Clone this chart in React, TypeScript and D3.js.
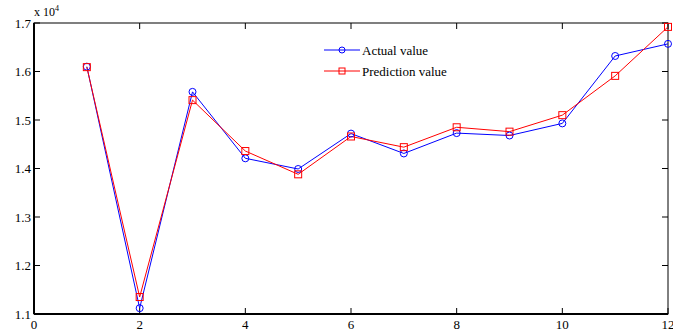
import * as d3 from "d3";

const X_VALUES = [1, 2, 3, 4, 5, 6, 7, 8, 9, 10, 11, 12];
const ACTUAL = [1.61, 1.112, 1.558, 1.421, 1.399, 1.472, 1.431, 1.473, 1.468, 1.493, 1.632, 1.657];
const PREDICTED = [1.609, 1.135, 1.541, 1.436, 1.388, 1.466, 1.444, 1.485, 1.476, 1.51, 1.591, 1.692];
const X_TICKS = [0, 2, 4, 6, 8, 10, 12];
const Y_TICKS = [1.1, 1.2, 1.3, 1.4, 1.5, 1.6, 1.7];

const W = 673;
const H = 336;
const M = { left: 34, top: 23, right: 5, bottom: 22 };
const FONT = "'Liberation Serif', 'DejaVu Serif', serif";
const BLUE = "#0000ff";
const RED = "#ff0000";

export default function App() {
  const x = d3.scaleLinear().domain([0, 12]).range([M.left, W - M.right]);
  const y = d3.scaleLinear().domain([1.1, 1.7]).range([H - M.bottom, M.top]);
  const line = d3
    .line<number>()
    .x((_, i) => x(X_VALUES[i]))
    .y((d) => y(d));
  const x0 = x(0), x1 = x(12), y0 = y(1.1), y1 = y(1.7);
  const tk = 6;

  return (
    <svg
      width={W}
      height={H}
      style={{ position: "absolute", left: 0, top: 0, background: "#fff" }}
      fontFamily={FONT}
    >
      {/* ticks, inward on all four sides */}
      {X_TICKS.map((t) => (
        <g key={`x${t}`} stroke="#000" strokeWidth={1}>
          <line x1={x(t)} x2={x(t)} y1={y0} y2={y0 - tk} />
          <line x1={x(t)} x2={x(t)} y1={y1} y2={y1 + tk} />
        </g>
      ))}
      {Y_TICKS.map((t) => (
        <g key={`y${t}`} stroke="#000" strokeWidth={1}>
          <line x1={x0} x2={x0 + tk} y1={y(t)} y2={y(t)} />
          <line x1={x1} x2={x1 - tk} y1={y(t)} y2={y(t)} />
        </g>
      ))}
      {/* box */}
      <rect x={x0} y={y1} width={x1 - x0} height={y0 - y1} fill="none" stroke="#000" strokeWidth={1} />
      <line x1={x0} x2={x0} y1={y1} y2={y0} stroke="#000" strokeWidth={2} />
      <line x1={x0} x2={x1} y1={y0} y2={y0} stroke="#000" strokeWidth={2} />

      {/* tick labels */}
      {X_TICKS.map((t) => (
        <text key={`xl${t}`} x={x(t)} y={y0 + 15} textAnchor="middle" fontSize={13} fill="#000">
          {t}
        </text>
      ))}
      {Y_TICKS.map((t) => (
        <text key={`yl${t}`} x={x0 - 3} y={y(t)} dy="0.35em" textAnchor="end" fontSize={13} fill="#000">
          {t.toFixed(1)}
        </text>
      ))}
      <text x={x0} y={y1 - 7} fontSize={12} fill="#000">
        x 10<tspan fontSize={8} dy={-5}>4</tspan>
      </text>

      {/* series */}
      <path d={line(ACTUAL) ?? ""} fill="none" stroke={BLUE} strokeWidth={1} />
      <path d={line(PREDICTED) ?? ""} fill="none" stroke={RED} strokeWidth={1} />
      {ACTUAL.map((v, i) => (
        <circle key={`a${i}`} cx={x(X_VALUES[i])} cy={y(v)} r={3.5} fill="none" stroke={BLUE} strokeWidth={1} />
      ))}
      {PREDICTED.map((v, i) => (
        <rect key={`p${i}`} x={x(X_VALUES[i]) - 3.5} y={y(v) - 3.5} width={7} height={7} fill="none" stroke={RED} strokeWidth={1} />
      ))}

      {/* legend */}
      <g>
        <line x1={324} x2={360} y1={50} y2={50} stroke={BLUE} strokeWidth={1} />
        <circle cx={342} cy={50} r={3} fill="none" stroke={BLUE} strokeWidth={1} />
        <text x={362} y={50} dy="0.35em" fontSize={13} fill="#000">Actual value</text>
        <line x1={324} x2={360} y1={71} y2={71} stroke={RED} strokeWidth={1} />
        <rect x={339} y={68} width={6} height={6} fill="none" stroke={RED} strokeWidth={1} />
        <text x={362} y={71} dy="0.35em" fontSize={13} fill="#000">Prediction value</text>
      </g>
    </svg>
  );
}
